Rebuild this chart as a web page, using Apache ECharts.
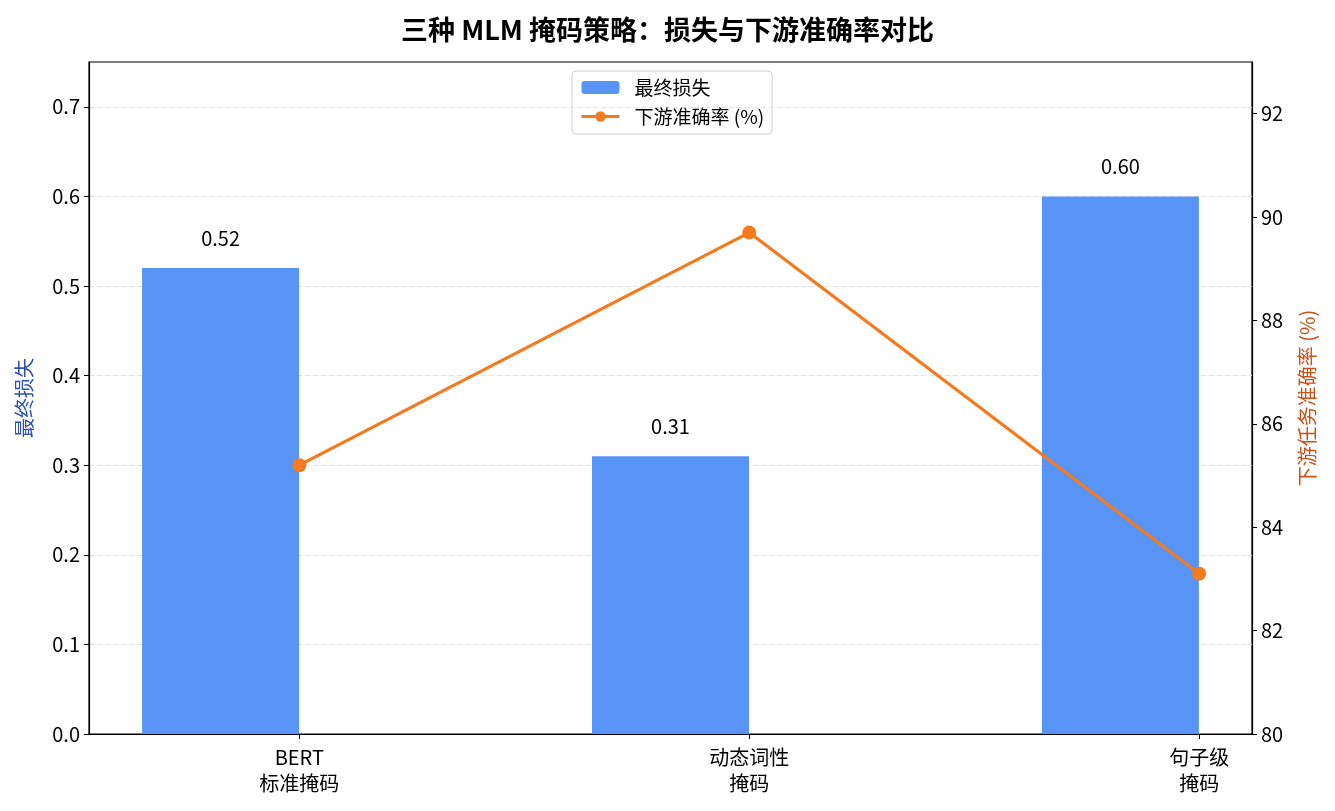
<!DOCTYPE html>
<html>
<head>
<meta charset="utf-8">
<script src="https://cdn.jsdelivr.net/npm/echarts@6/dist/echarts.min.js"></script>
<style>
  html, body { margin: 0; padding: 0; background: #fff; }
  #main { width: 1335px; height: 811px; }
</style>
</head>
<body>
<div id="main"></div>
<script>
// 数据
let categories = ['BERT\n标准掩码', '动态词性\n掩码', '句子级\n掩码'];
let lossValues = [0.52, 0.31, 0.60];
let accValues = [85.2, 89.7, 83.1];
let leftTicks = [0, 0.1, 0.2, 0.3, 0.4, 0.5, 0.6, 0.7];

let fontFamily = '"Noto Sans CJK SC", "Noto Sans", sans-serif';
let myChart = echarts.init(document.getElementById('main'));

// 柱子在类别左侧，折线点在类别中心
let barData = lossValues.map((v, i) => [i - 0.175, v]);
let lineData = accValues.map((v, i) => [i, v]);

let option = {
    backgroundColor: '#fff',
    textStyle: { fontFamily: fontFamily },
    title: {
        text: '三种 MLM 掩码策略：损失与下游准确率对比',
        left: 'center',
        top: 11,
        textStyle: { fontSize: 27, fontWeight: 'bold', color: '#000', fontFamily: fontFamily }
    },
    legend: {
        top: 71,
        left: 572,
        orient: 'vertical',
        itemWidth: 38,
        itemHeight: 13,
        itemGap: 10,
        padding: [7, 8, 8, 8],
        borderColor: '#d0d0d0',
        borderWidth: 1,
        borderRadius: 4,
        lineStyle: { width: 3 },
        textStyle: { fontSize: 19, color: '#000', padding: [0, 0, 0, 10] },
        data: ['最终损失', '下游准确率 (%)']
    },
    grid: {
        left: 89,
        right: 83,
        top: 62,
        bottom: 77,
        show: true,
        borderColor: '#000',
        borderWidth: 1.2,
        backgroundColor: 'transparent'
    },
    xAxis: {
        type: 'value',
        min: -0.4675,
        max: 2.1175,
        splitLine: { show: false },
        axisLine: { onZero: false, lineStyle: { color: '#000', width: 1.2 } },
        axisTick: { show: true, length: 5, customValues: [0, 1, 2], lineStyle: { color: '#000' } },
        axisLabel: {
            customValues: [0, 1, 2],
            formatter: v => categories[Math.round(v)],
            fontSize: 20,
            lineHeight: 26,
            color: '#000',
            margin: 10
        }
    },
    yAxis: [
        {
            type: 'value',
            min: 0,
            max: 0.75,
            interval: 0.1,
            name: '最终损失',
            nameLocation: 'middle',
            nameGap: 55,
            nameTextStyle: { color: '#2e4fb0', fontSize: 20 },
            axisLine: { show: true, onZero: false, lineStyle: { color: '#000', width: 1.2 } },
            axisTick: { show: true, length: 5, customValues: leftTicks, lineStyle: { color: '#000' } },
            axisLabel: {
                customValues: leftTicks,
                formatter: v => v.toFixed(1),
                fontSize: 20,
                color: '#000',
                margin: 9
            },
            splitLine: { show: true, lineStyle: { color: '#e3e3e3', type: [5, 3], width: 1 } }
        },
        {
            type: 'value',
            min: 80,
            max: 93,
            interval: 2,
            position: 'right',
            name: '下游任务准确率 (%)',
            nameLocation: 'middle',
            nameGap: 45,
            nameTextStyle: { color: '#c8521a', fontSize: 20 },
            axisLine: { show: true, onZero: false, lineStyle: { color: '#000', width: 1.2 } },
            axisTick: { show: true, length: 5, lineStyle: { color: '#000' } },
            axisLabel: { fontSize: 20, color: '#000', margin: 9, showMaxLabel: false },
            splitLine: { show: false }
        }
    ],
    series: [
        {
            name: '最终损失',
            type: 'bar',
            xAxisIndex: 0,
            yAxisIndex: 0,
            barWidth: 157,
            data: barData,
            itemStyle: { color: '#5894f6' },
            label: {
                show: true,
                position: 'top',
                distance: 20,
                fontSize: 20,
                color: '#000',
                formatter: p => p.value[1].toFixed(2)
            }
        },
        {
            name: '下游准确率 (%)',
            type: 'line',
            xAxisIndex: 0,
            yAxisIndex: 1,
            data: lineData,
            symbol: 'circle',
            symbolSize: 14,
            lineStyle: { color: '#f47a1f', width: 3.2 },
            itemStyle: { color: '#f47a1f' },
            z: 5
        }
    ]
};
myChart.setOption(option);
</script>
</body>
</html>
